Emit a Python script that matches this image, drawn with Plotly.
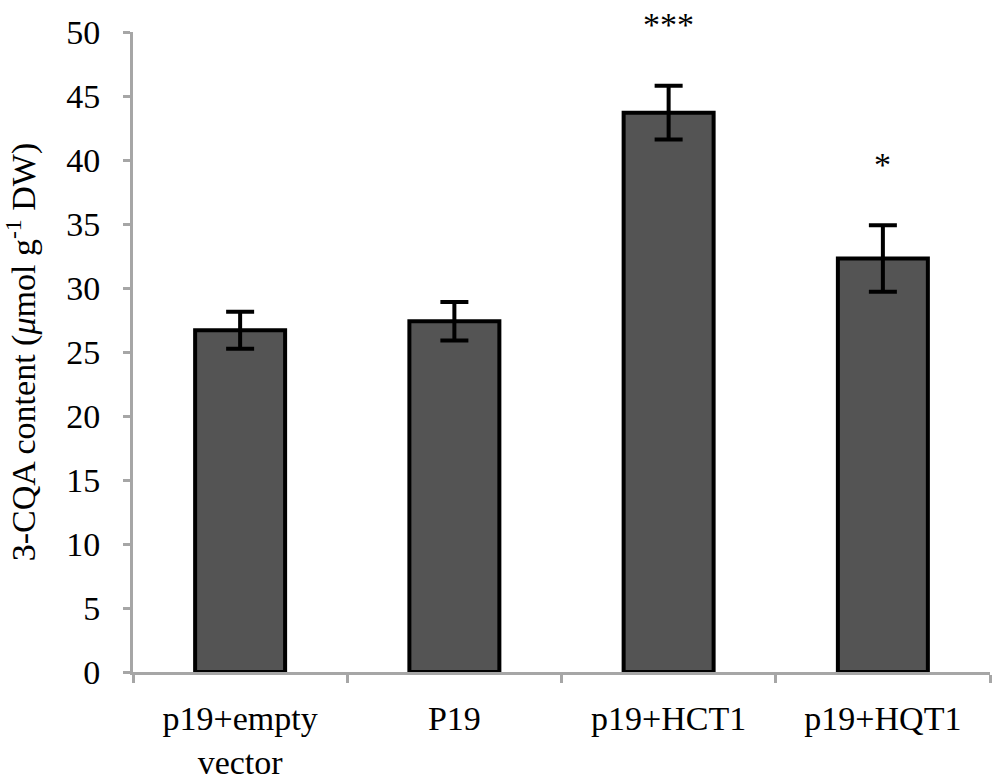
import plotly.graph_objects as go

# values
groups = ["p19+empty<br>vector", "P19", "p19+HCT1", "p19+HQT1"]
cqa_mean = [26.7, 27.4, 43.7, 32.3]
cqa_err = [1.45, 1.5, 2.1, 2.6]
sig_labels = ["", "", "***", "*"]

y_ticks = [0, 5, 10, 15, 20, 25, 30, 35, 40, 45, 50]

serif = "Liberation Serif, Times New Roman, serif"
axis_grey = "#a6a6a6"

fig = go.Figure()
fig.add_trace(
    go.Bar(
        x=groups,
        y=cqa_mean,
        marker=dict(color="#545454", line=dict(color="black", width=4)),
        error_y=dict(
            type="data", array=cqa_err, color="black", thickness=4, width=14
        ),
    )
)

# significance stars sit a fixed distance above each error bar
for g, lab, m, e in zip(groups, sig_labels, cqa_mean, cqa_err):
    if not lab:
        continue
    fig.add_annotation(
        x=g,
        y=m + e,
        text=lab,
        showarrow=False,
        yanchor="middle",
        yshift=61,
        font=dict(family=serif, size=34, color="black"),
    )

fig.update_layout(
    width=1000,
    height=782,
    margin=dict(l=133, r=10, t=32, b=110),
    plot_bgcolor="white",
    paper_bgcolor="white",
    showlegend=False,
    bargap=0.58,
    font=dict(family=serif, size=34, color="black"),
)
fig.update_xaxes(
    automargin=False,
    showline=True,
    linecolor=axis_grey,
    linewidth=3,
    ticks="outside",
    tickson="boundaries",
    ticklen=8,
    tickwidth=3,
    tickcolor=axis_grey,
    showgrid=False,
    ticklabelstandoff=14,
    tickfont=dict(family=serif, size=34),
)
fig.update_yaxes(
    automargin=False,
    range=[0, 50],
    tickvals=y_ticks,
    showline=True,
    linecolor=axis_grey,
    linewidth=3,
    ticks="outside",
    ticklen=7,
    tickwidth=3,
    tickcolor=axis_grey,
    showgrid=False,
    zeroline=False,
    ticklabelstandoff=16,
    tickfont=dict(family=serif, size=34),
    title=dict(
        text="3-CQA content (<i>μ</i>mol g<sup>-1</sup> DW)",
        font=dict(family=serif, size=34),
        standoff=22,
    ),
)

# drop the default page margin so the figure fills the window exactly
fig.write_html(
    "out.html",
    config={"displayModeBar": False},
    post_script="document.body.style.margin = '0';",
)
